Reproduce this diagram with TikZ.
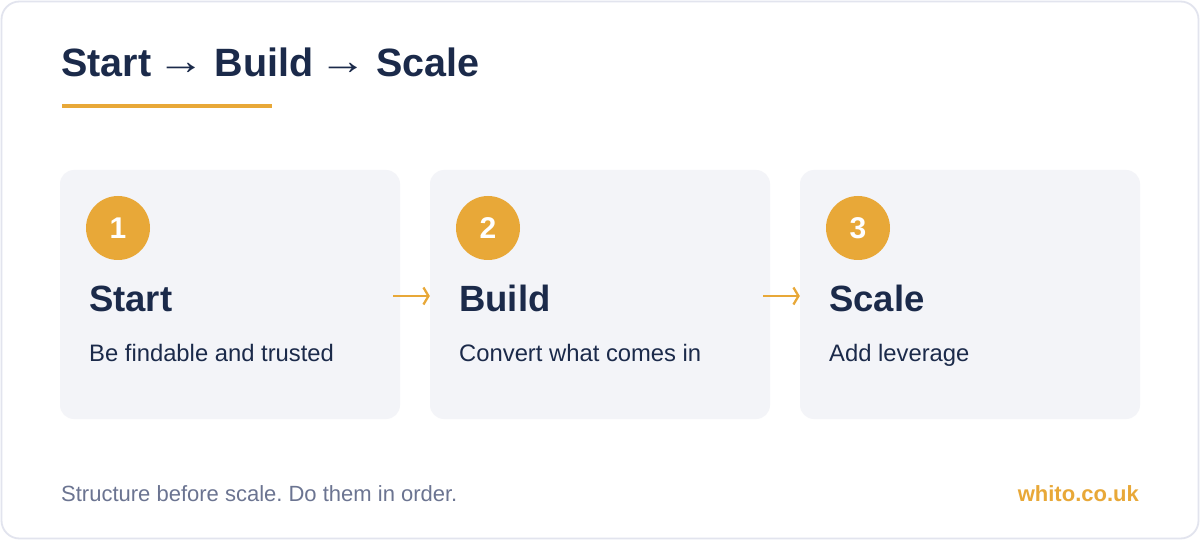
\documentclass[tikz,border=0pt]{standalone}
\usepackage{graphicx}
\usepackage{fontspec}
\setmainfont{Liberation Sans}
\usetikzlibrary{arrows.meta}
\definecolor{navy}{HTML}{1B2A4A}
\definecolor{accent}{HTML}{E8A838}
\definecolor{cardfill}{HTML}{F3F4F8}
\definecolor{footgray}{HTML}{6B7491}
\definecolor{frame}{HTML}{E2E4EE}
\newcommand{\tarrow}{\hspace{-5pt}{\mdseries\raisebox{2pt}{\scalebox{1.2}[1]{→}}}\hspace{-1pt}}
\tikzset{
  card/.style={fill=cardfill, rounded corners=14pt, minimum width=340pt, minimum height=249pt, inner sep=0pt},
  badge/.style={circle, fill=accent, minimum size=64pt, inner sep=0pt, text=white, font=\bfseries\fontsize{30}{30}\selectfont},
  heading/.style={anchor=base west, inner sep=0pt, text=navy, font=\bfseries\fontsize{36.5}{40}\selectfont},
  sub/.style={anchor=base west, inner sep=0pt, text=navy, font=\fontsize{23.8}{28}\selectfont},
  arr/.style={draw=accent, line width=2.3pt, -{Straight Barb[length=5pt,width=17pt]}},
}
\frenchspacing
\begin{document}
\begin{tikzpicture}[x=1pt,y=-1pt]
\useasboundingbox (0,0) rectangle (1200,540);
\fill[white] (0,0) rectangle (1200,540);
\draw[frame, line width=1.8pt, fill=white, rounded corners=18pt] (1.5,1.5) rectangle (1198.5,538.5);
% title
\node[anchor=base west, inner sep=0pt, text=navy, font=\bfseries\fontsize{39.5}{44}\selectfont] (title) at (61,77) {Start \tarrow{} Build \tarrow{} Scale};
\fill[accent] (62,104) rectangle (272,108.5);
% cards
\node[card] (c1) at (230,294.5) {};
\node[card] (c2) at (600,294.5) {};
\node[card] (c3) at (970,294.5) {};
% badges
\node[badge] (b1) at (118,228) {1};
\node[badge] (b2) at (488,228) {2};
\node[badge] (b3) at (858,228) {3};
% headings
\node[heading] (h1) at (89,312) {Start};
\node[heading] (h2) at (459,312) {Build};
\node[heading] (h3) at (829,312) {Scale};
% subtitles
\node[sub] (s1) at (89,361) {Be findable and trusted};
\node[sub] (s2) at (459,361) {Convert what comes in};
\node[sub] (s3) at (829,361) {Add leverage};
% arrows
\draw[arr] ([xshift=-7pt,yshift=-1.5pt]c1.east) -- ([yshift=-1.5pt]c2.west);
\draw[arr] ([xshift=-7pt,yshift=-1.5pt]c2.east) -- ([yshift=-1.5pt]c3.west);
% footer
\node[anchor=base west, inner sep=0pt, text=footgray, font=\fontsize{22}{26}\selectfont] (foot) at (61,501) {Structure before scale. Do them in order.};
\node[anchor=base east, inner sep=0pt, text=accent, font=\bfseries\fontsize{22}{26}\selectfont] (brand) at (1139,501) {whito.co.uk};
\end{tikzpicture}
\end{document}
